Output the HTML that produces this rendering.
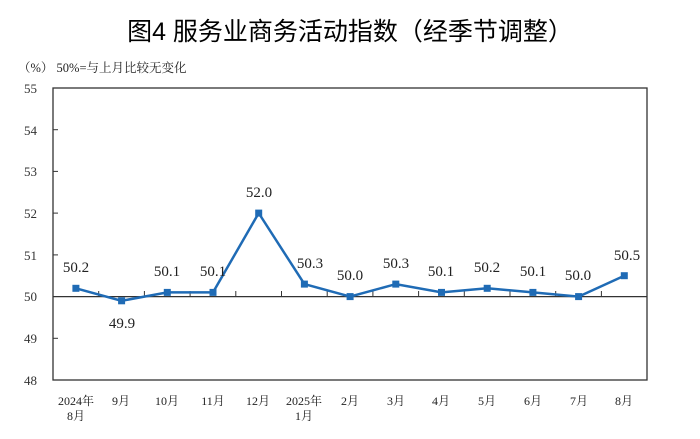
<!DOCTYPE html>
<html><head><meta charset="utf-8"><style>body{margin:0;background:#fff}</style></head><body>
<svg width="700" height="434" xmlns="http://www.w3.org/2000/svg" font-family="'Liberation Serif','Noto Serif CJK SC',serif">
<text x="350" y="40" text-anchor="middle" font-size="25" font-family="'Liberation Sans','Noto Sans CJK SC',sans-serif" fill="#000">图4  服务业商务活动指数（经季节调整）</text>
<text x="18" y="72" font-size="12.5" fill="#222">（%）  50%=与上月比较无变化</text>
<rect x="53" y="88" width="594" height="292" fill="none" stroke="#333" stroke-width="1.3"/>
<line x1="53" y1="296.6" x2="647" y2="296.6" stroke="#333" stroke-width="1.3"/>
<g font-size="13" fill="#333" text-anchor="end">
<text x="37" y="93">55</text><text x="37" y="135">54</text><text x="37" y="176">53</text><text x="37" y="218">52</text><text x="37" y="260">51</text><text x="37" y="301">50</text><text x="37" y="343">49</text><text x="37" y="385">48</text>
</g>
<g stroke="#333" stroke-width="1">
<line x1="53" y1="129.7" x2="58" y2="129.7"/><line x1="53" y1="171.4" x2="58" y2="171.4"/><line x1="53" y1="213.1" x2="58" y2="213.1"/><line x1="53" y1="254.9" x2="58" y2="254.9"/><line x1="53" y1="338.3" x2="58" y2="338.3"/>
<line x1="98.7" y1="296.6" x2="98.7" y2="291"/><line x1="144.4" y1="296.6" x2="144.4" y2="291"/><line x1="190.1" y1="296.6" x2="190.1" y2="291"/><line x1="235.8" y1="296.6" x2="235.8" y2="291"/><line x1="281.5" y1="296.6" x2="281.5" y2="291"/><line x1="327.2" y1="296.6" x2="327.2" y2="291"/><line x1="372.9" y1="296.6" x2="372.9" y2="291"/><line x1="418.6" y1="296.6" x2="418.6" y2="291"/><line x1="464.3" y1="296.6" x2="464.3" y2="291"/><line x1="510" y1="296.6" x2="510" y2="291"/><line x1="555.7" y1="296.6" x2="555.7" y2="291"/><line x1="601.4" y1="296.6" x2="601.4" y2="291"/>
</g>
<polyline fill="none" stroke="#1f6bb5" stroke-width="2.5" points="75.9,288.3 121.6,300.8 167.3,292.4 213,292.4 258.7,213.1 304.4,284.1 350.1,296.6 395.8,284.1 441.5,292.4 487.2,288.3 532.9,292.4 578.6,296.6 624.3,275.7"/>
<g fill="#1f6bb5">
<rect x="72.4" y="284.8" width="7" height="7"/><rect x="118.1" y="297.3" width="7" height="7"/><rect x="163.8" y="288.9" width="7" height="7"/><rect x="209.5" y="288.9" width="7" height="7"/><rect x="255.2" y="209.6" width="7" height="7"/><rect x="300.9" y="280.6" width="7" height="7"/><rect x="346.6" y="293.1" width="7" height="7"/><rect x="392.3" y="280.6" width="7" height="7"/><rect x="438" y="288.9" width="7" height="7"/><rect x="483.7" y="284.8" width="7" height="7"/><rect x="529.4" y="288.9" width="7" height="7"/><rect x="575.1" y="293.1" width="7" height="7"/><rect x="620.8" y="272.2" width="7" height="7"/>
</g>
<g font-size="15" fill="#222" text-anchor="middle">
<text x="76" y="272">50.2</text><text x="122" y="328">49.9</text><text x="167" y="276">50.1</text><text x="213" y="276">50.1</text><text x="259" y="197">52.0</text><text x="310" y="268">50.3</text><text x="350" y="280">50.0</text><text x="396" y="268">50.3</text><text x="441" y="276">50.1</text><text x="487" y="272">50.2</text><text x="533" y="276">50.1</text><text x="578" y="280">50.0</text><text x="627" y="260">50.5</text>
</g>
<g font-size="12" fill="#222" text-anchor="middle">
<text x="76" y="405">2024年</text><text x="76" y="420">8月</text><text x="121" y="405">9月</text><text x="167" y="405">10月</text><text x="213" y="405">11月</text><text x="258" y="405">12月</text><text x="304" y="405">2025年</text><text x="304" y="420">1月</text><text x="350" y="405">2月</text><text x="396" y="405">3月</text><text x="441" y="405">4月</text><text x="487" y="405">5月</text><text x="533" y="405">6月</text><text x="579" y="405">7月</text><text x="624" y="405">8月</text>
</g>
</svg>
</body></html>
